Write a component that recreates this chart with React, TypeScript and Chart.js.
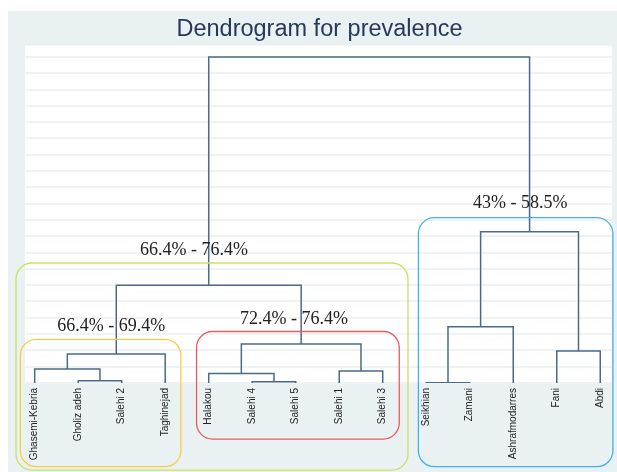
import { useEffect, useRef } from "react";
import { Chart, registerables } from "chart.js";

Chart.register(...registerables);

// ---------- data ----------
const chartTitle = "Dendrogram for prevalence";
const leaves = [
  "Ghasemi-Kebria",
  "Gholiz adeh",
  "Salehi 2",
  "Taghinejad",
  "Halakou",
  "Salehi 4",
  "Salehi 5",
  "Salehi 1",
  "Salehi 3",
  "Seikhian",
  "Zamani",
  "Ashrafmodarres",
  "Fani",
  "Abdi",
];
// linkage: node ids 0..13 are leaves, merge k creates node 14+k
const mergeLeft = [9, 5, 1, 4, 7, 0, 19, 12, 17, 14, 20, 23, 24];
const mergeRight = [10, 6, 2, 15, 8, 16, 3, 13, 18, 11, 22, 21, 25];
const mergeHeight = [0.02, 0.08, 0.14, 0.59, 0.74, 0.86, 1.78, 1.96, 2.39, 3.45, 6.0, 9.28, 20];
const gridValues = [0, 1, 2, 3, 4, 5, 6, 7, 8, 9, 10, 11, 12, 13, 14, 15, 16, 17, 18, 19, 20];
const groupLabels = ["66.4% - 76.4%", "66.4% - 69.4%", "72.4% - 76.4%", "43% - 58.5%"];

// ---------- annotation layout (data units) ----------
const groupBoxes = [
  { x0: -0.43, x1: 8.58, y0: 7.36, y1: -5.34, color: "#cbe25e" },
  { x0: -0.33, x1: 3.36, y0: 2.68, y1: -5.13, color: "#f9cd47" },
  { x0: 3.72, x1: 8.38, y0: 3.16, y1: -3.44, color: "#ec5a5e" },
  { x0: 8.82, x1: 13.29, y0: 10.14, y1: -5.13, color: "#42b2e6" },
];
const labelPos = [
  { x: 3.66, y: 8.16 },
  { x: 1.76, y: 3.5 },
  { x: 5.96, y: 3.93 },
  { x: 11.16, y: 11.04 },
];

const LINE_COLOR = "#4a6a89";
const BG = "#e9f1f3";

function buildSegments() {
  const pos: number[] = leaves.map((_, i) => i);
  const hgt: number[] = leaves.map(() => 0);
  const segs: { x: number; y: number }[][] = [];
  mergeLeft.forEach((a, k) => {
    const b = mergeRight[k];
    const h = mergeHeight[k];
    segs.push([
      { x: pos[a], y: hgt[a] },
      { x: pos[a], y: h },
      { x: pos[b], y: h },
      { x: pos[b], y: hgt[b] },
    ]);
    pos.push((pos[a] + pos[b]) / 2);
    hgt.push(h);
  });
  return segs;
}

function roundRect(ctx: CanvasRenderingContext2D, x: number, y: number, w: number, h: number, r: number) {
  ctx.beginPath();
  ctx.moveTo(x + r, y);
  ctx.lineTo(x + w - r, y);
  ctx.arcTo(x + w, y, x + w, y + r, r);
  ctx.lineTo(x + w, y + h - r);
  ctx.arcTo(x + w, y + h, x + w - r, y + h, r);
  ctx.lineTo(x + r, y + h);
  ctx.arcTo(x, y + h, x, y + h - r, r);
  ctx.lineTo(x, y + r);
  ctx.arcTo(x, y, x + r, y, r);
  ctx.closePath();
}

export default function App() {
  const ref = useRef<HTMLCanvasElement | null>(null);

  useEffect(() => {
    document.body.style.margin = "0";
    document.documentElement.style.overflow = "hidden";
    if (!ref.current) return;
    const segs = buildSegments();

    const bgPlugin = {
      id: "bgPlugin",
      beforeDraw(chart: any) {
        const { ctx, chartArea } = chart;
        ctx.save();
        ctx.fillStyle = BG;
        ctx.fillRect(8, 11, chart.width - 8, chart.height - 11);
        ctx.fillStyle = "#ffffff";
        ctx.fillRect(chartArea.left, chartArea.top, chartArea.right - chartArea.left, chartArea.bottom - chartArea.top);
        ctx.fillStyle = "#27385a";
        ctx.font = "23.5px 'Liberation Sans', Arial, sans-serif";
        ctx.textAlign = "center";
        ctx.textBaseline = "alphabetic";
        ctx.fillText(chartTitle, 319.5, 36);
        ctx.restore();
      },
    };

    const annoPlugin = {
      id: "annoPlugin",
      afterDraw(chart: any) {
        const { ctx } = chart;
        const xs = chart.scales.x;
        const ys = chart.scales.y;
        ctx.save();
        groupBoxes.forEach((b) => {
          const x0 = xs.getPixelForValue(b.x0);
          const x1 = xs.getPixelForValue(b.x1);
          const y0 = ys.getPixelForValue(b.y0);
          const y1 = ys.getPixelForValue(b.y1);
          ctx.strokeStyle = b.color;
          ctx.lineWidth = 1.3;
          roundRect(ctx, x0, y0, x1 - x0, y1 - y0, 16);
          ctx.stroke();
        });
        ctx.fillStyle = "#222222";
        ctx.font = "18px 'Liberation Serif', 'Times New Roman', serif";
        ctx.textAlign = "center";
        ctx.textBaseline = "middle";
        groupLabels.forEach((t, i) => {
          ctx.fillText(t, xs.getPixelForValue(labelPos[i].x), ys.getPixelForValue(labelPos[i].y));
        });
        ctx.restore();
      },
    };

    const chart = new Chart(ref.current, {
      type: "scatter",
      data: {
        datasets: segs.map((s) => ({
          data: s,
          showLine: true,
          borderColor: LINE_COLOR,
          borderWidth: 1.5,
          pointRadius: 0,
          tension: 0,
          fill: false,
        })),
      },
      options: {
        animation: false,
        responsive: false,
        events: [],
        layout: { padding: { left: 25, right: 5, top: 45.7, bottom: 0 } },
        plugins: { legend: { display: false }, tooltip: { enabled: false }, title: { display: false } },
        scales: {
          x: {
            type: "linear",
            min: -0.223,
            max: 13.27,
            grid: { display: false, drawTicks: false },
            border: { display: false },
            afterBuildTicks: (scale: any) => {
              scale.ticks = leaves.map((_, i) => ({ value: i }));
            },
            afterFit: (scale: any) => {
              scale.height = 89;
              scale.paddingLeft = 0;
              scale.paddingRight = 0;
            },
            ticks: {
              autoSkip: false,
              minRotation: 90,
              maxRotation: 90,
              padding: 5,
              color: "#222222",
              font: { family: "'Liberation Sans', Arial, sans-serif", size: 10 },
              callback: (v: any) => leaves[Math.round(Number(v))] ?? "",
            },
          },
          y: {
            type: "linear",
            min: 0,
            max: 20.69,
            grid: { color: "#eef3f5", lineWidth: 2, drawTicks: false },
            border: { display: false },
            afterBuildTicks: (scale: any) => {
              scale.ticks = gridValues.map((v) => ({ value: v }));
            },
            afterFit: (scale: any) => {
              scale.width = 0;
            },
            ticks: { display: false },
          },
        },
      },
      plugins: [bgPlugin, annoPlugin],
    });
    return () => chart.destroy();
  }, []);

  return (
    <div style={{ width: 617, height: 472 }}>
      <canvas ref={ref} width={617} height={472} style={{ display: "block" }} />
    </div>
  );
}
